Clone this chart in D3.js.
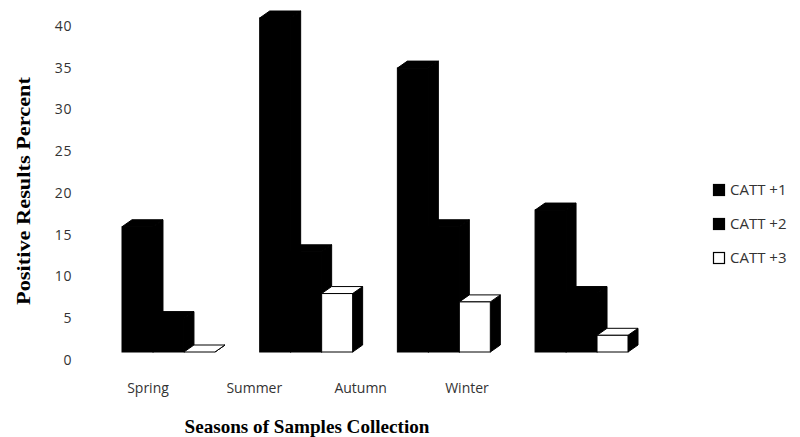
<!DOCTYPE html>
<html><head><meta charset="utf-8">
<script src="https://cdn.jsdelivr.net/npm/d3@7"></script>
<style>body{margin:0;background:#fff}</style>
</head><body>
<svg id="chart" width="800" height="437"></svg>
<script>
const seasons = ["Spring", "Summer", "Autumn", "Winter"];
const seriesNames = ["CATT +1", "CATT +2", "CATT +3"];
const catt1 = [15, 40, 34, 17];
const catt2 = [4, 12, 15, 7];
const catt3 = [0, 7, 6, 2];
const yTicks = [0, 5, 10, 15, 20, 25, 30, 35, 40];
const seriesValues = [catt1, catt2, catt3];
const seriesFill = ["#000", "#000", "#fff"];

const svg = d3.select("#chart");
const depthX = 10, depthY = 7;

const y = d3.scaleLinear().domain([0, 40]).range([352, 18]);
const x0 = d3.scaleBand().domain(seasons).range([122, 628]).paddingInner(0.325).paddingOuter(0);
const x1 = d3.scaleBand().domain(seriesNames).range([0, x0.bandwidth()]);
const xLabel = d3.scalePoint().domain(seasons).range([148, 467]);

const sansFont = "'Open Sans', Lato, sans-serif";

// y axis labels
const yAxis = d3.axisLeft(y).tickValues(yTicks).tickSize(0).tickPadding(0);
const gy = svg.append("g").attr("transform", "translate(72,8)").call(yAxis);
gy.select(".domain").remove();
gy.selectAll("text").attr("font-family", sansFont).attr("font-size", 14).attr("fill", "#333").attr("letter-spacing", "0.6px");

// bars
const gBars = svg.append("g");
seasons.forEach((s, i) => {
  seriesNames.forEach((n, j) => {
    const v = seriesValues[j][i];
    const xl = x0(s) + x1(n), w = x1.bandwidth();
    const yt = y(v), yb = y(0);
    const white = seriesFill[j] === "#fff";
    const sw = white ? 1 : 1;
    // side face
    gBars.append("path")
      .attr("d", `M${xl + w},${yt}L${xl + w + depthX},${yt - depthY}L${xl + w + depthX},${yb - depthY}L${xl + w},${yb}Z`)
      .attr("fill", "#000").attr("stroke", "#000").attr("stroke-width", sw);
    // top face
    gBars.append("path")
      .attr("d", `M${xl},${yt}L${xl + depthX},${yt - depthY}L${xl + w + depthX},${yt - depthY}L${xl + w},${yt}Z`)
      .attr("fill", seriesFill[j]).attr("stroke", "#000").attr("stroke-width", sw);
    // front face
    if (yb - yt > 0) {
      gBars.append("rect").attr("x", xl).attr("y", yt).attr("width", w).attr("height", yb - yt)
        .attr("fill", seriesFill[j]).attr("stroke", "#000").attr("stroke-width", sw);
    }
  });
});

// x labels
svg.append("g").selectAll("text").data(seasons).join("text")
  .attr("x", d => xLabel(d)).attr("y", 393).attr("text-anchor", "middle")
  .attr("font-family", sansFont).attr("font-size", 14).attr("fill", "#333")
  .text(d => d);

// axis titles
svg.append("text").attr("x", 307).attr("y", 433).attr("text-anchor", "middle")
  .attr("font-family", "'Liberation Serif', 'Times New Roman', serif").attr("font-weight", "bold")
  .attr("font-size", 19).attr("textLength", 245).attr("lengthAdjust", "spacingAndGlyphs")
  .text("Seasons of Samples Collection");
svg.append("text").attr("transform", "translate(30,191) rotate(-90)").attr("text-anchor", "middle")
  .attr("font-family", "'Liberation Serif', 'Times New Roman', serif").attr("font-weight", "bold")
  .attr("font-size", 19).attr("textLength", 228).attr("lengthAdjust", "spacingAndGlyphs")
  .text("Positive Results Percent");

// legend
const lg = svg.append("g").attr("transform", "translate(713,190)");
seriesNames.forEach((n, j) => {
  const g = lg.append("g").attr("transform", `translate(0,${j * 34})`);
  g.append("rect").attr("x", 0.5).attr("y", -5.5).attr("width", 11).attr("height", 11)
    .attr("fill", seriesFill[j]).attr("stroke", "#000").attr("stroke-width", 1.2);
  g.append("text").attr("x", 17).attr("y", 5).attr("font-family", sansFont)
    .attr("font-size", 15).attr("fill", "#333").text(n);
});
</script>
</body></html>
